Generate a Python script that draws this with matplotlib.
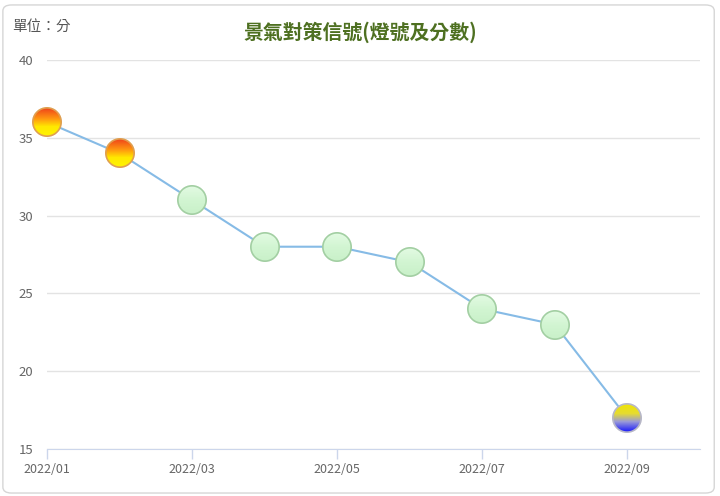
import matplotlib
matplotlib.use("Agg")
import matplotlib.pyplot as plt
import numpy as np
from matplotlib.offsetbox import OffsetImage, AnnotationBbox
from matplotlib.patches import FancyBboxPatch
from matplotlib.colors import to_rgb

plt.rcParams['font.family'] = ['Noto Sans CJK TC', 'DejaVu Sans']

months = ['2022/01', '2022/02', '2022/03', '2022/04', '2022/05',
          '2022/06', '2022/07', '2022/08', '2022/09']
scores = [36, 34, 31, 28, 28, 27, 24, 23, 17]
lights = ['yellow-red', 'yellow-red', 'green', 'green', 'green',
          'green', 'green', 'green', 'yellow-blue']

# gradient stops (position from top, colour) and edge colour for each light
ball_styles = {
    'yellow-red': ([(0.0, '#ee3a1c'), (0.4, '#ff9a10'), (0.65, '#ffe800'), (1.0, '#fff500')], '#e0a050'),
    'green': ([(0.0, '#e4fbe4'), (0.5, '#d2f5d2'), (1.0, '#c8f0c8')], '#a3cfa3'),
    'yellow-blue': ([(0.0, '#f0e400'), (0.35, '#e6dc30'), (0.62, '#9a9ad8'), (1.0, '#0a0aff')], '#b8b8c8'),
}


def make_ball(stops, edge, size=34, radius=15.0):
    yy, xx = np.mgrid[0:size, 0:size] + 0.5
    c = size / 2
    r = np.hypot(xx - c, yy - c)
    t = np.clip((yy - (c - radius)) / (2 * radius), 0, 1)
    pos = [s[0] for s in stops]
    cols = np.array([to_rgb(s[1]) for s in stops])
    rgb = np.stack([np.interp(t, pos, cols[:, k]) for k in range(3)], axis=-1)
    ring = np.clip(r - (radius - 2.2), 0, 1)[..., None]
    rgb = rgb * (1 - ring) + np.array(to_rgb(edge)) * ring
    alpha = np.clip(radius - r + 0.5, 0, 1)
    return np.dstack([rgb, alpha])


fig = plt.figure(figsize=(7.2, 4.96), dpi=100)
fig.patches.append(FancyBboxPatch((0.004, 0.006), 0.988, 0.984,
                                  boxstyle='round,pad=0,rounding_size=0.012',
                                  transform=fig.transFigure, facecolor='white',
                                  edgecolor='#d6d6d6', linewidth=1.0, zorder=-1))

ax = fig.add_axes([0.0653, 0.0948, 0.9067, 0.7842])
ax.set_facecolor('none')
x = np.arange(len(months))
ax.plot(x, scores, color='#86bbe6', linewidth=1.5, zorder=2)

for xi, yi, kind in zip(x, scores, lights):
    stops, edge = ball_styles[kind]
    img = OffsetImage(make_ball(stops, edge), zoom=1, dpi_cor=False)
    ab = AnnotationBbox(img, (xi, yi), frameon=False, pad=0, zorder=3)
    ax.add_artist(ab)

ax.set_xlim(0, 9)
ax.set_ylim(15, 40)
ax.set_xticks(x[::2])
ax.set_xticklabels(months[::2])
ax.set_yticks([15, 20, 25, 30, 35, 40])
ax.yaxis.grid(True, color='#e3e3e3', linewidth=1.0)
ax.set_axisbelow(True)
for s in ['left', 'right', 'top']:
    ax.spines[s].set_visible(False)
ax.spines['bottom'].set_color('#ccd6eb')
ax.tick_params(axis='x', colors='#ccd6eb', length=7, width=1, labelcolor='#666666',
               labelsize=9, pad=3)
ax.tick_params(axis='y', length=0, labelcolor='#666666', labelsize=9.5, pad=10)

fig.text(0.5, 0.935, '景氣對策信號(燈號及分數)', ha='center', va='center',
         fontsize=14.3, fontweight='bold', color='#4e7021')
fig.text(0.017, 0.945, '單位：分', ha='left', va='center', fontsize=10.5, color='#555555')

fig.savefig('out.png', dpi=100)
